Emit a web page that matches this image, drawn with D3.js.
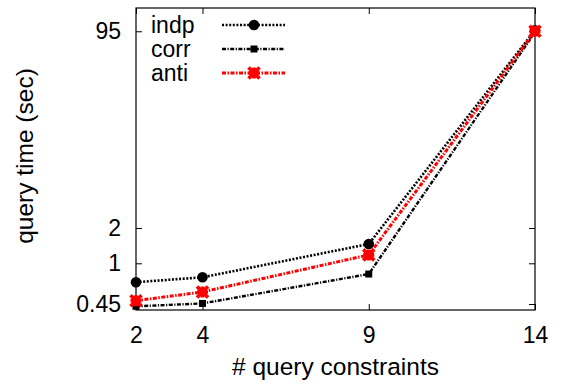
<!DOCTYPE html>
<html><head><meta charset="utf-8">
<script src="https://cdn.jsdelivr.net/npm/d3@7"></script>
<style>
html,body{margin:0;padding:0;background:#fff;}
svg{display:block;font-family:"Liberation Sans",Arial,Helvetica,sans-serif;}
</style></head>
<body><svg id="chart" width="561" height="386"></svg>
<script>
const xValues = [2, 4, 9, 14];
const indp = [0.69, 0.76, 1.46, 97];
const corr = [0.43, 0.455, 0.81, 93];
const anti = [0.48, 0.57, 1.18, 95];
const xTickValues = [2, 4, 9, 14];
const yTickValues = [0.45, 1, 2, 95];
const yTickLabels = ["0.45", "1", "2", "95"];
const seriesNames = ["indp", "corr", "anti"];

const svg = d3.select("#chart");
const L = 136, R = 535, T = 8, B = 310;
const x = d3.scaleLinear().domain([2, 14]).range([L, R]);
const y = d3.scaleLog().domain([0.4, 150]).range([B, T]);

const series = [
  {name: seriesNames[0], values: indp, color: "#000", dash: "2,1.6", width: 2.6, marker: "circle"},
  {name: seriesNames[1], values: corr, color: "#000", dash: "4,1.5,1.2,1.5", width: 2.4, marker: "square"},
  {name: seriesNames[2], values: anti, color: "#f00", dash: "4,1.5,1.5,1.5", width: 3, marker: "star"}
];

const fmt = d => yTickLabels[yTickValues.indexOf(d)];
const axL = d3.axisLeft(y).tickValues(yTickValues).tickFormat(fmt).tickSizeInner(-6).tickSizeOuter(0).tickPadding(15);
const axR = d3.axisRight(y).tickValues(yTickValues).tickFormat("").tickSizeInner(-6).tickSizeOuter(0);
const axB = d3.axisBottom(x).tickValues(xTickValues).tickFormat(d3.format("d")).tickSizeInner(-6).tickSizeOuter(0).tickPadding(17);
const axT = d3.axisTop(x).tickValues(xTickValues).tickFormat("").tickSizeInner(-6).tickSizeOuter(0);

function styleAxis(g){
  g.select(".domain").remove();
  g.selectAll(".tick line").attr("stroke", "#000").attr("stroke-width", 1);
  g.selectAll(".tick text").attr("fill", "#000").attr("font-size", 23).attr("font-family", "Liberation Sans, Arial, sans-serif");
}
svg.append("g").attr("transform", `translate(${L},0)`).call(axL).call(styleAxis);
svg.append("g").attr("transform", `translate(${R},0)`).call(axR).call(styleAxis);
svg.append("g").attr("transform", `translate(0,${B})`).call(axB).call(styleAxis);
svg.append("g").attr("transform", `translate(0,${T})`).call(axT).call(styleAxis);

svg.append("rect").attr("x", L).attr("y", T).attr("width", R - L).attr("height", B - T)
  .attr("fill", "none").attr("stroke", "#000").attr("stroke-width", 1.2);

svg.append("text").attr("x", (L + R) / 2).attr("y", 375).attr("text-anchor", "middle")
  .attr("font-size", 24.5).text("# query constraints");
svg.append("text").attr("transform", "translate(33,156) rotate(-90)").attr("text-anchor", "middle")
  .attr("font-size", 24.5).text("query time (sec)");

function drawMarker(g, type, cx, cy, color){
  if (type === "circle") {
    g.append("circle").attr("cx", cx).attr("cy", cy).attr("r", 5.3).attr("fill", color);
  } else if (type === "square") {
    g.append("rect").attr("x", cx - 3.5).attr("y", cy - 3.5).attr("width", 7).attr("height", 7).attr("fill", color);
  } else {
    const s = 5.5;
    const p = `M${cx - s},${cy}L${cx + s},${cy}M${cx},${cy - s}L${cx},${cy + s}` +
      `M${cx - s},${cy - s}L${cx + s},${cy + s}M${cx - s},${cy + s}L${cx + s},${cy - s}`;
    g.append("path").attr("d", p).attr("stroke", color).attr("stroke-width", 3.6).attr("fill", "none");
  }
}

const line = d3.line().x((d, i) => x(xValues[i])).y(d => y(d));
series.forEach(s => {
  const g = svg.append("g");
  g.append("path").attr("d", line(s.values)).attr("fill", "none")
    .attr("stroke", s.color).attr("stroke-width", s.width).attr("stroke-dasharray", s.dash);
  s.values.forEach((v, i) => drawMarker(g, s.marker, x(xValues[i]), y(v), s.color));
});

series.forEach((s, i) => {
  const ly = 25 + i * 24;
  const g = svg.append("g");
  g.append("text").attr("x", 151).attr("y", ly + 8).attr("font-size", 23).text(s.name);
  g.append("line").attr("x1", 222).attr("x2", 285).attr("y1", ly).attr("y2", ly)
    .attr("stroke", s.color).attr("stroke-width", s.width).attr("stroke-dasharray", s.dash);
  drawMarker(g, s.marker, 254, ly, s.color);
});
</script></body></html>
